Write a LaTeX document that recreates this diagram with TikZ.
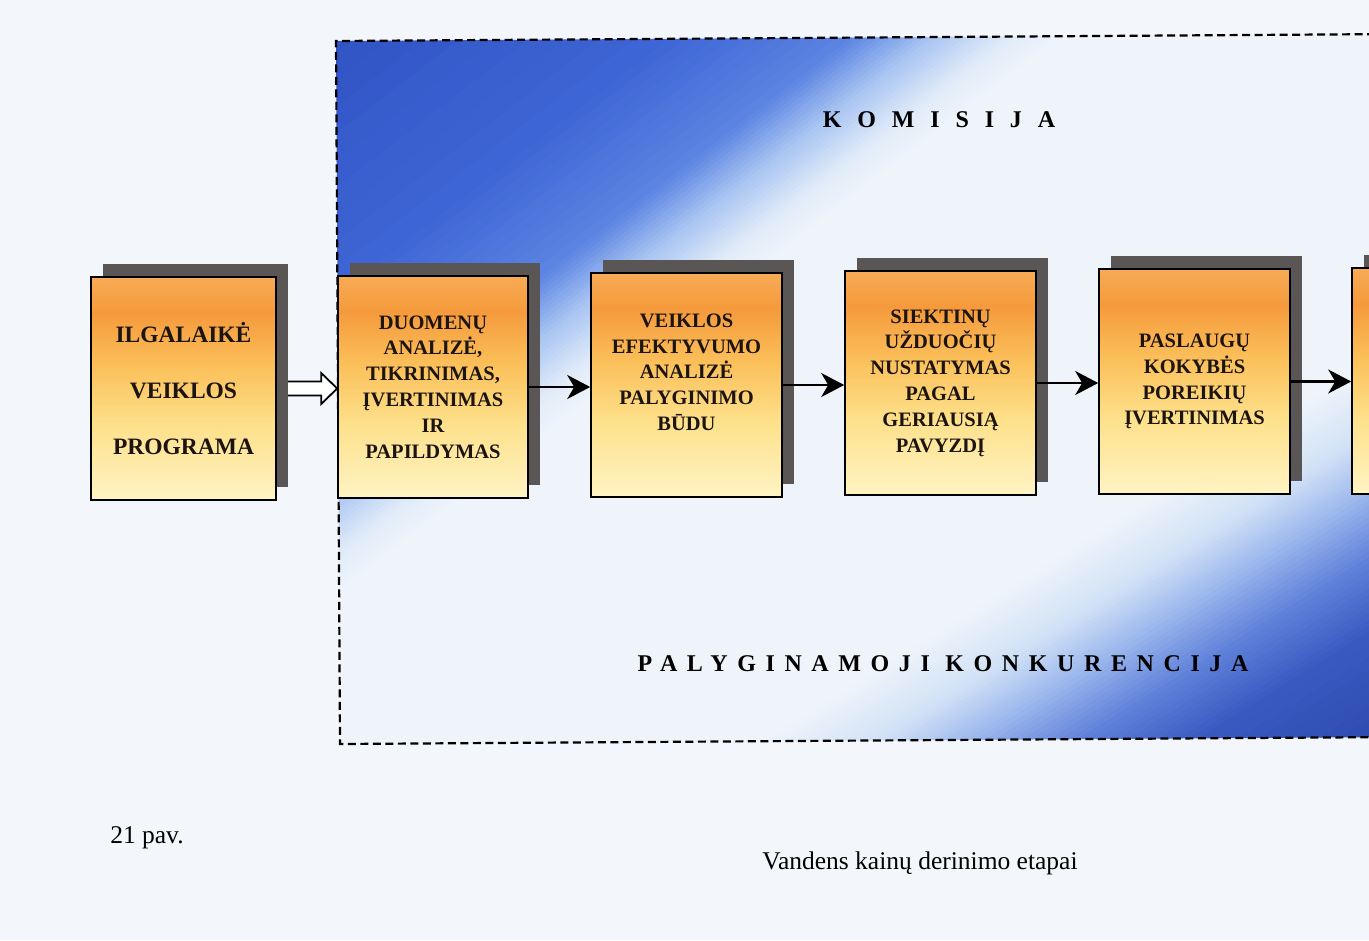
\documentclass[tikz,border=0pt]{standalone}
\usepackage{fontspec}
\setmainfont{Liberation Serif}
\newfontfamily\trackfontA[LetterSpace=66]{Liberation Serif}
\newfontfamily\trackfontB[LetterSpace=40]{Liberation Serif}
\usetikzlibrary{arrows.meta,shadows,calc}
\definecolor{pagebg}{HTML}{F3F6FA}
\definecolor{gA}{HTML}{2D4FC0}
\definecolor{gB}{HTML}{3F66D6}
\definecolor{gC}{HTML}{5C84E2}
\definecolor{gD}{HTML}{A8C4F2}
\definecolor{gE}{HTML}{E2ECF9}
\definecolor{gF}{HTML}{EEF4FA}
\definecolor{gG}{HTML}{D2E2F6}
\definecolor{gH}{HTML}{9FBAEE}
\definecolor{gI}{HTML}{6283DA}
\definecolor{gJ}{HTML}{3A5AC2}
\definecolor{gK}{HTML}{2A46A8}
\definecolor{byel}{HTML}{FFF4C4}
\definecolor{bmidb}{HTML}{FDE08A}
\definecolor{bmid}{HTML}{FBC05A}
\definecolor{bdeep}{HTML}{F59A3C}
\definecolor{btop}{HTML}{F7AB55}
\definecolor{shadowgray}{HTML}{5A5656}
\definecolor{inktext}{HTML}{1C1410}
\pgfdeclareverticalshading{boxshade}{100bp}{color(0bp)=(byel); color(25bp)=(byel); color(42bp)=(bmidb); color(55bp)=(bmid); color(67bp)=(bdeep); color(75bp)=(btop); color(100bp)=(btop)}
\pgfdeclarelayer{bg}
\pgfdeclarelayer{mid}
\pgfsetlayers{bg,mid,main}
\tikzset{
  box/.style={draw=black, line width=1.6bp, shade, shading=boxshade, inner sep=0pt,
    align=center, text=inktext,
    font=\fontsize{20.5bp}{25.8bp}\selectfont\bfseries,
    drop shadow={shadow xshift=12bp, shadow yshift=13bp, fill=shadowgray, opacity=1, draw=none}},
  flowarrow/.style={draw=black, line width=2.2bp, -{Stealth[length=23bp,width=24bp,inset=7bp]}},
  hollowarrow/.style={draw=black, line width=1.8bp, fill=white, line join=miter},
  frameline/.style={draw=black, line width=2.2bp, dash pattern=on 8bp off 4.5bp},
  heading/.style={inner sep=0pt, text=black},
  caption/.style={inner sep=0pt, text=black, font=\fontsize{25.5bp}{30bp}\selectfont},
}
\begin{document}
\begin{tikzpicture}[x=1bp,y=-1bp]
\useasboundingbox (0,0) rectangle (1369,940);
\begin{pgfonlayer}{bg}
  \fill[pagebg] (0,0) rectangle (1369,940);
  \begin{scope}
    \clip (336,41) -- (1400,34) -- (1400,737) -- (340,744) -- cycle;
    \fill[gF] (300,0) rectangle (1400,800);
    % top-left gradient: lines x + 1.3 y = t ; bottom-right: x + 1.6 y = t
    \foreach \ta/\tb/\ca/\cb/\dx in {300/720/gA/gB/1040, 720/900/gB/gC/1040, 900/980/gC/gD/1040, 980/1060/gD/gE/1040, 1060/1110/gE/gF/1040,
        1950/2060/gF/gG/1280, 2060/2150/gG/gH/1280, 2150/2260/gH/gI/1280, 2260/2380/gI/gJ/1280, 2380/2620/gJ/gK/1280}{
      \foreach \k in {0,...,11}{
        \pgfmathsetmacro\tlo{\ta+(\tb-\ta)*\k/12}
        \pgfmathsetmacro\thi{\ta+(\tb-\ta)*(\k+1)/12+1.5}
        \pgfmathtruncatemacro\mx{100*(\k+0.5)/12}
        \fill[\cb!\mx!\ca] (\tlo,0) -- (\thi,0) -- ({\thi-\dx},800) -- ({\tlo-\dx},800) -- cycle;
      }
    }
  \end{scope}
  \draw[frameline] (1400,34) -- (336,41) -- (340,744) -- (1400,737);
\end{pgfonlayer}

\node[box, minimum width=185bp, minimum height=223bp,
  font=\fontsize{23.5bp}{56bp}\selectfont\bfseries] (b1) at (183.5,388.5) {ILGALAIKĖ\\VEIKLOS\\PROGRAMA};
\node[box, minimum width=190bp, minimum height=222bp] (b2) at (433,387)
  {DUOMENŲ\\ANALIZĖ,\\TIKRINIMAS,\\ĮVERTINIMAS\\IR\\PAPILDYMAS};
\node[box, minimum width=191bp, minimum height=224bp] (b3) at (686.5,385)
  {VEIKLOS\\EFEKTYVUMO\\ANALIZĖ\\PALYGINIMO\\BŪDU\\\mbox{}};
\node[box, minimum width=191bp, minimum height=224bp] (b4) at (940.5,383)
  {SIEKTINŲ\\UŽDUOČIŲ\\NUSTATYMAS\\PAGAL\\GERIAUSIĄ\\PAVYZDĮ};
\node[box, minimum width=191bp, minimum height=225bp] (b5) at (1194.5,381.5)
  {PASLAUGŲ\\KOKYBĖS\\POREIKIŲ\\ĮVERTINIMAS};
\node[box, minimum width=191bp, minimum height=226bp] (b6) at (1447.5,381) {};

\begin{pgfonlayer}{mid}
  \draw[hollowarrow] ($(b1.east)+(0,-7)$) -- ($(b1.east -| b2.west)+(-16,-7)$)
    -- ($(b1.east -| b2.west)+(-16,-15.5)$) -- (b1.east -| b2.west)
    -- ($(b1.east -| b2.west)+(-16,15.5)$) -- ($(b1.east -| b2.west)+(-16,7)$)
    -- ($(b1.east)+(0,7)$);
\end{pgfonlayer}

\draw[flowarrow] (b2.east) -- (b2.east -| b3.west);
\draw[flowarrow] (b3.east) -- (b3.east -| b4.west);
\draw[flowarrow] (b4.east) -- (b4.east -| b5.west);
\draw[flowarrow] (b5.east) -- (b5.east -| b6.west);

\node[heading, font=\fontsize{24bp}{28bp}\trackfontA\bfseries] (kom) at (939,120) {KOMISIJA};
\node[heading, font=\fontsize{24bp}{28bp}\trackfontB\bfseries] (pk) at (943,664) {PALYGINAMOJI KONKURENCIJA};

\node[caption] (c1) at (147,838) {21 pav.};
\node[caption] (c2) at (920,863) {Vandens kainų derinimo etapai};
\end{tikzpicture}
\end{document}
